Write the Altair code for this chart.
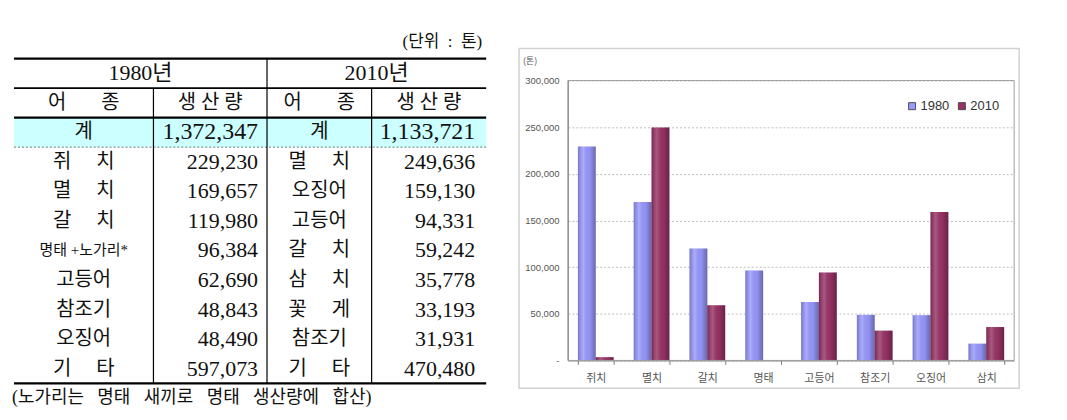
import altair as alt
import pandas as pd

# ---------------- data ----------------
UNIT_LABEL = "(단위\u2002:\u2002톤)"
FOOTNOTE = "(노가리는\u2002\u2005명태\u2002\u2005새끼로\u2002\u2005명태\u2002\u2005생산량에\u2002\u2005합산)"
YEAR_HEADERS = ["1980년", "2010년"]
COL_HEADERS = ["어\u3000\u2002\u2005종", "생\u2005산\u2005량"]
TOTAL_LABEL = "계"
TOTALS = ["1,372,347", "1,133,721"]

species_1980 = ["쥐\u3000\u2005치", "멸\u3000\u2005치", "갈\u3000\u2005치", "명태 +노가리*",
                "고등어", "참조기", "오징어", "기\u3000\u2005타"]
prod_1980 = [229230, 169657, 119980, 96384, 62690, 48843, 48490, 597073]
species_2010 = ["멸\u3000\u2005치", "오징어", "고등어", "갈\u3000\u2005치",
                "삼\u3000\u2005치", "꽃\u3000\u2005게", "참조기", "기\u3000\u2005타"]
prod_2010 = [249636, 159130, 94331, 59242, 35778, 33193, 31931, 470480]

chart_fish = ["쥐치", "멸치", "갈치", "명태", "고등어", "참조기", "오징어", "삼치"]
chart_1980 = [229230, 169657, 119980, 96384, 62690, 48843, 48490, 18000]
chart_2010 = [3500, 249636, 59242, None, 94331, 31931, 159130, 35778]
series = ["1980", "2010"]
y_ticks = [0, 50000, 100000, 150000, 200000, 250000, 300000]
Y_UNIT = "(톤)"

# ---------------- layout constants ----------------
TBL_W, TBL_H = 490, 404
COL_X = [5, 145, 259, 364, 479]
ROW_RANGE = [49, 375]          # rows 0..11 of the table
SERIF = "Liberation Serif, Noto Sans CJK KR"
SANS_KR = "Noto Sans CJK KR"

CH_W, CH_H = 551, 404
PLOT_X = [59, 507]
PLOT_Y = [352, 71]

# ---------------- table ----------------
def cc(i):
    return (COL_X[i] + COL_X[i + 1]) / 2

center_rows = [
    {"t": YEAR_HEADERS[0], "x": (COL_X[0] + COL_X[2]) / 2, "r": 0.5, "s": 22},
    {"t": YEAR_HEADERS[1], "x": (COL_X[2] + COL_X[4]) / 2, "r": 0.5, "s": 22},
    {"t": COL_HEADERS[0], "x": cc(0), "r": 1.5, "s": 20},
    {"t": COL_HEADERS[1], "x": cc(1), "r": 1.5, "s": 20},
    {"t": COL_HEADERS[0], "x": cc(2), "r": 1.5, "s": 20},
    {"t": COL_HEADERS[1], "x": cc(3), "r": 1.5, "s": 20},
    {"t": TOTAL_LABEL, "x": cc(0), "r": 2.5, "s": 20},
    {"t": TOTAL_LABEL, "x": cc(2), "r": 2.5, "s": 20},
]
for i, n in enumerate(species_1980):
    center_rows.append({"t": n, "x": cc(0), "r": 3.5 + i, "s": 15 if "+" in n else 20})
for i, n in enumerate(species_2010):
    center_rows.append({"t": n, "x": cc(2), "r": 3.5 + i, "s": 20})

right_rows = [
    {"t": TOTALS[0], "x": COL_X[2] - 9, "r": 2.5, "s": 24},
    {"t": TOTALS[1], "x": COL_X[4] - 11, "r": 2.5, "s": 24},
    {"t": UNIT_LABEL, "x": 475, "r": -0.57, "s": 17},
]
for i, v in enumerate(prod_1980):
    right_rows.append({"t": f"{v:,}", "x": COL_X[2] - 9, "r": 3.5 + i, "s": 22})
for i, v in enumerate(prod_2010):
    right_rows.append({"t": f"{v:,}", "x": COL_X[4] - 11, "r": 3.5 + i, "s": 22})

left_rows = [{"t": FOOTNOTE, "x": 3, "r": 11.5, "s": 18}]

rules = [
    {"x": COL_X[0], "x2": COL_X[4], "y": 0, "y2": 0, "w": 2.2},
    {"x": COL_X[0], "x2": COL_X[4], "y": 1, "y2": 1, "w": 1.6},
    {"x": COL_X[0], "x2": COL_X[4], "y": 2, "y2": 2, "w": 2.2},
    {"x": COL_X[0], "x2": COL_X[4], "y": 11, "y2": 11, "w": 2.2},
    {"x": COL_X[1], "x2": COL_X[1], "y": 1, "y2": 11, "w": 1.2},
    {"x": COL_X[2], "x2": COL_X[2], "y": 0, "y2": 11, "w": 1.2},
    {"x": COL_X[3], "x2": COL_X[3], "y": 1, "y2": 11, "w": 1.2},
]
dotted = [{"x": COL_X[0], "x2": COL_X[4], "y": 3, "y2": 3}]
band = [{"x": COL_X[0], "x2": COL_X[4], "y": 2, "y2": 3}]

xs = alt.Scale(domain=[0, TBL_W], range=[0, TBL_W])
ys = alt.Scale(domain=[0, 11], range=ROW_RANGE)

band_layer = alt.Chart(alt.Data(values=band)).mark_rect(color="#ccffff").encode(
    x=alt.X("x:Q", scale=xs, axis=None), x2="x2:Q",
    y=alt.Y("y:Q", scale=ys, axis=None), y2="y2:Q")
rule_layer = alt.Chart(alt.Data(values=rules)).mark_rule(color="#000000").encode(
    x=alt.X("x:Q", scale=xs, axis=None), x2="x2:Q",
    y=alt.Y("y:Q", scale=ys, axis=None), y2="y2:Q",
    strokeWidth=alt.StrokeWidth("w:Q", scale=None))
dot_layer = alt.Chart(alt.Data(values=dotted)).mark_rule(
    color="#555555", strokeDash=[2, 2], strokeWidth=0.8).encode(
    x=alt.X("x:Q", scale=xs, axis=None), x2="x2:Q",
    y=alt.Y("y:Q", scale=ys, axis=None), y2="y2:Q")

def text_layer(rows, align):
    return alt.Chart(alt.Data(values=rows)).mark_text(
        align=align, baseline="middle", font=SERIF, color="#111111").encode(
        x=alt.X("x:Q", scale=xs, axis=None),
        y=alt.Y("r:Q", scale=ys, axis=None),
        text="t:N",
        size=alt.Size("s:Q", scale=None))

table = alt.layer(
    band_layer, dot_layer, rule_layer,
    text_layer(center_rows, "center"),
    text_layer(right_rows, "right"),
    text_layer(left_rows, "left"),
).properties(width=TBL_W, height=TBL_H)

# ---------------- bar chart ----------------
df = pd.DataFrame({
    "fish": chart_fish * 2,
    "series": [series[0]] * len(chart_fish) + [series[1]] * len(chart_fish),
    "value": chart_1980 + chart_2010,
})

x_enc = alt.X("fish:N", sort=chart_fish,
              scale=alt.Scale(range=PLOT_X, paddingInner=0.36, paddingOuter=0.18),
              axis=alt.Axis(title=None, offset=PLOT_Y[0] - CH_H, labelAngle=0,
                            tickBand="extent", ticks=True, tickSize=4, tickColor="#808080",
                            domainColor="#808080", labelPadding=8, labelFont=SANS_KR,
                            labelFontSize=11, labelColor="#555555", grid=False))
xo_enc = alt.XOffset("series:N", scale=alt.Scale(domain=series, paddingInner=0))
y_enc = alt.Y("value:Q",
              scale=alt.Scale(domain=[0, 300000], range=PLOT_Y, nice=False),
              axis=alt.Axis(title=None, offset=-PLOT_X[0], values=y_ticks,
                            labelExpr="datum.value == 0 ? '-' : format(datum.value, ',')",
                            ticks=False, labelPadding=9, labelFont="Liberation Sans",
                            labelFontSize=9.5, labelColor="#555555", domainColor="#808080",
                            grid=True, gridDash=[2, 2], gridColor="#bdbdbd"))

outer_box = alt.Chart(alt.Data(values=[{}])).mark_rect(
    filled=False, stroke="#d2d2d2", strokeWidth=1.5).encode(
    x=alt.value(10), x2=alt.value(512), y=alt.value(39), y2=alt.value(380))

bars = alt.Chart(df).mark_bar().encode(
    x=x_enc, xOffset=xo_enc, y=y_enc,
    color=alt.Color("series:N",
                    scale=alt.Scale(domain=series, range=["#9999ff", "#993366"]),
                    legend=alt.Legend(orient="none", legendX=900, legendY=90,
                                      direction="horizontal", title=None,
                                      symbolType="square", symbolSize=50,
                                      symbolStrokeColor="#333333", symbolStrokeWidth=0.8,
                                      labelFont="Liberation Sans", labelFontSize=13,
                                      labelColor="#333333", columnPadding=6,
                                      labelOffset=2)))

shade = alt.Chart(df).mark_bar(
    color=alt.Gradient(
        gradient="linear", x1=0, x2=1, y1=0, y2=0,
        stops=[alt.GradientStop(color="rgba(0,0,0,0.22)", offset=0),
               alt.GradientStop(color="rgba(255,255,255,0.18)", offset=0.3),
               alt.GradientStop(color="rgba(0,0,0,0.04)", offset=0.65),
               alt.GradientStop(color="rgba(0,0,0,0.32)", offset=1)])).encode(
    x=x_enc, xOffset=xo_enc, y=y_enc)

frame = alt.Chart(alt.Data(values=[{}])).mark_rect(
    filled=False, stroke="#a0a0a0", strokeWidth=1).encode(
    x=alt.value(PLOT_X[0]), x2=alt.value(PLOT_X[1]),
    y=alt.value(PLOT_Y[1]), y2=alt.value(PLOT_Y[0]))

unit = alt.Chart(alt.Data(values=[{"t": Y_UNIT}])).mark_text(
    font=SANS_KR, fontSize=9, color="#555555", align="left", baseline="middle").encode(
    x=alt.value(14), y=alt.value(51), text="t:N")

bar_chart = alt.layer(outer_box, bars, shade, frame, unit).properties(width=CH_W, height=CH_H)

chart = alt.hconcat(table, bar_chart, spacing=10).properties(
    padding=0, background="white").configure_view(stroke="transparent")

chart.save("out.html", embed_options={"renderer": "svg", "actions": False})
